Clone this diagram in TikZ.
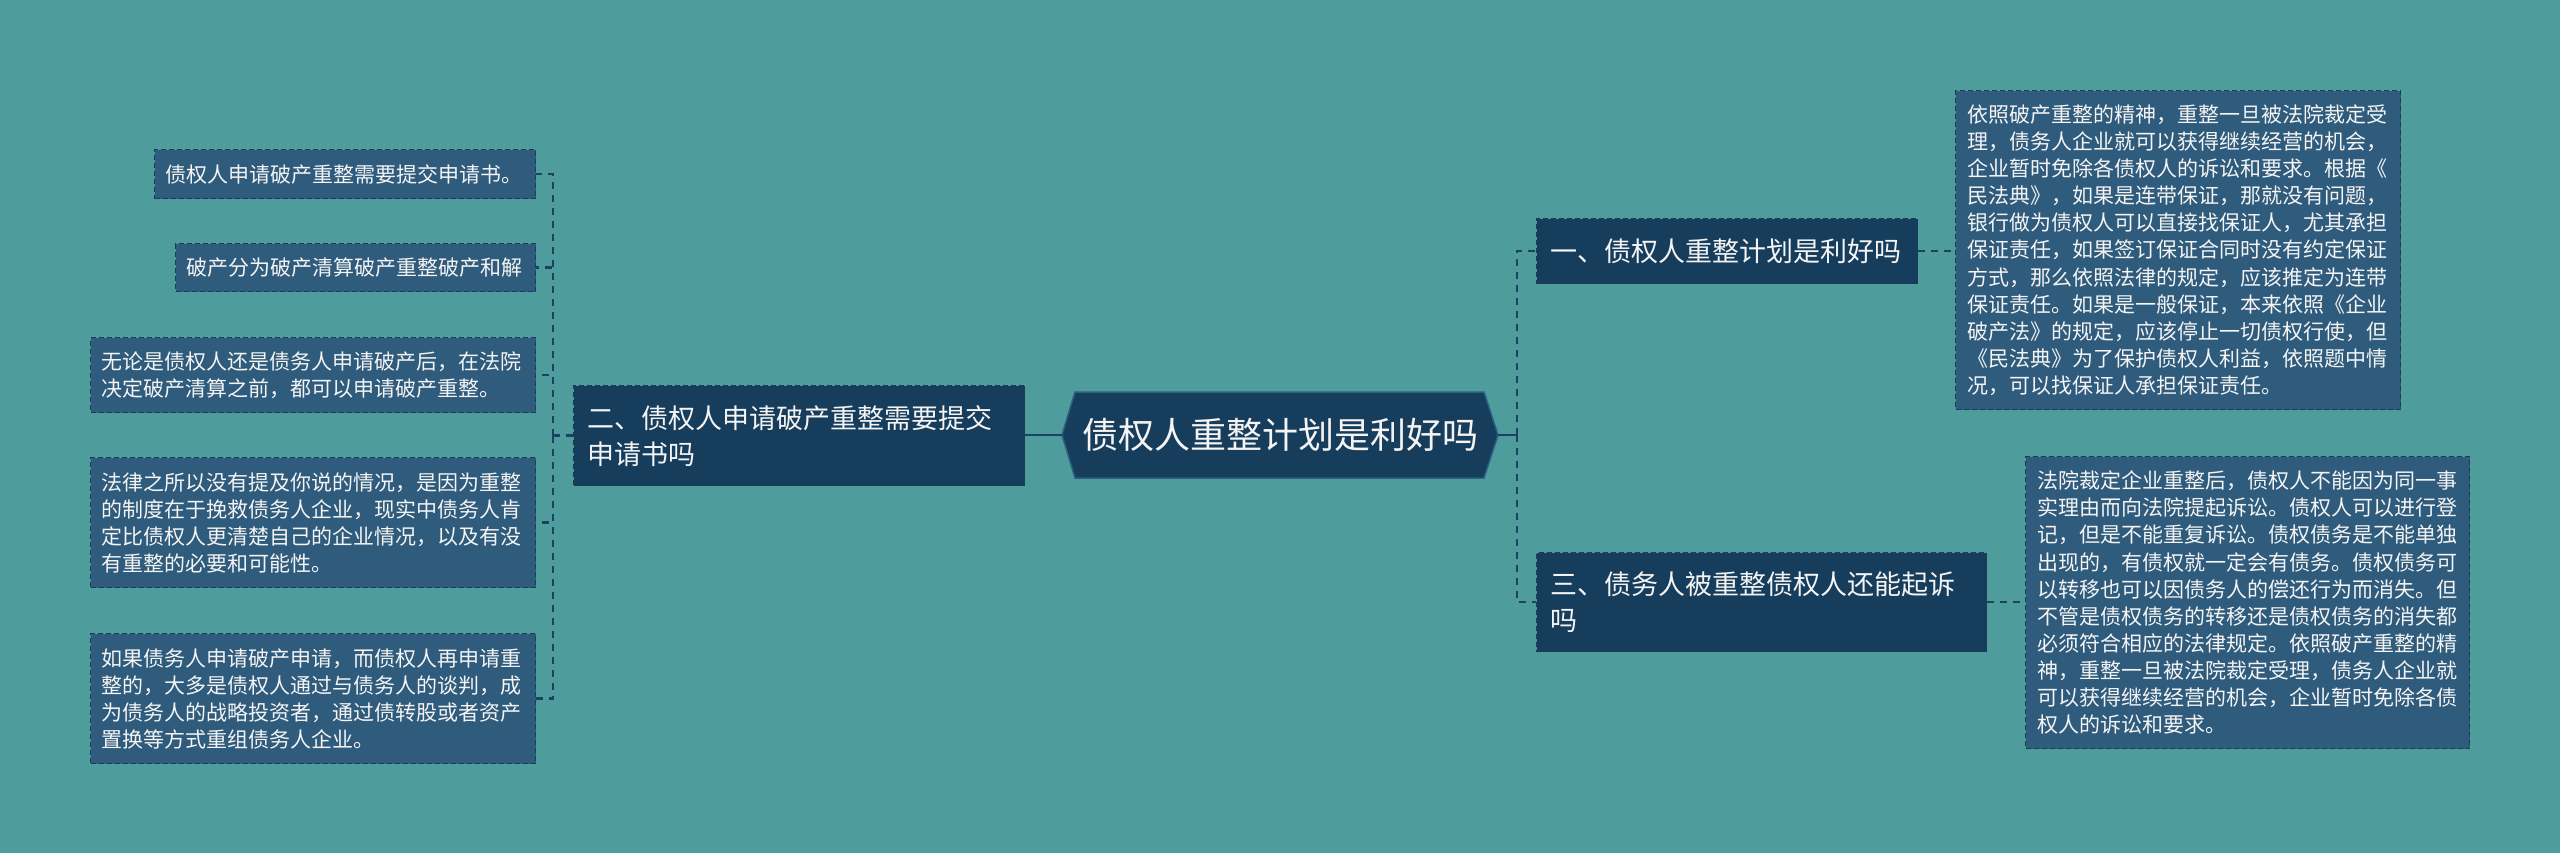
\documentclass[tikz,border=0pt]{standalone}
\usepackage{fontspec}
\newfontfamily\cjk{Noto Sans CJK SC}
\definecolor{bgC}{HTML}{4E9C9C}
\definecolor{leafC}{HTML}{2F5B7C}
\definecolor{branchC}{HTML}{173D5C}
\definecolor{edgeC}{HTML}{1A3C58}
\definecolor{lineC}{HTML}{1C4263}
\definecolor{hexC}{HTML}{173D5C}
\definecolor{hexEdge}{HTML}{2C5F80}
\definecolor{txtC}{HTML}{F4F4F4}
\begin{document}
\begin{tikzpicture}[x=1pt,y=-1pt,
  leaf/.style={draw=edgeC, line width=1.4pt, dash pattern=on 5pt off 3pt, fill=leafC, text=txtC,
    font=\cjk\fontsize{21}{27.1}\selectfont, align=left, anchor=north west,
    inner xsep=11pt, inner ysep=0pt},
  branch/.style={draw=edgeC, line width=1.4pt, dash pattern=on 5pt off 3pt, fill=branchC, text=txtC,
    font=\cjk\fontsize{27}{36}\selectfont, align=left, anchor=north west,
    inner xsep=14pt, inner ysep=0pt},
  link/.style={draw=lineC, line width=2.5pt},
  dlink/.style={link, dash pattern=on 7pt off 6pt}]
\useasboundingbox (0,0) rectangle (2560,853);
\fill[bgC] (0,0) rectangle (2560,853);

% central hexagon
\path[fill=hexC, draw=hexEdge, line width=1.5pt]
  (1062,435) -- (1075,392) -- (1484,392) -- (1498,435) -- (1484,478) -- (1075,478) -- cycle;
\node[font=\cjk\fontsize{36}{40}\selectfont, text=txtC] (c) at (1280,435) {债权人重整计划是利好吗};
\coordinate (cL) at (1062,435);
\coordinate (cR) at (1498,435);

% branches
\node[branch, minimum width=451pt, minimum height=100pt, text width=423pt] (b2) at (573,385)
  {二、债权人申请破产重整需要提交\\申请书吗};
\node[branch, minimum width=381pt, minimum height=65pt, text width=353pt] (b1) at (1536,218)
  {一、债权人重整计划是利好吗};
\node[branch, minimum width=450pt, minimum height=99pt, text width=422pt] (b3) at (1536,552)
  {三、债务人被重整债权人还能起诉\\吗};

% left leaves
\node[leaf, minimum width=381pt, minimum height=49pt, text width=359pt] (l1) at (154,149)
  {债权人申请破产重整需要提交申请书。};
\node[leaf, minimum width=360pt, minimum height=48pt, text width=338pt] (l2) at (175,243)
  {破产分为破产清算破产重整破产和解};
\node[leaf, minimum width=445pt, minimum height=75pt, text width=423pt] (l3) at (90,337)
  {无论是债权人还是债务人申请破产后，在法院\\决定破产清算之前，都可以申请破产重整。};
\node[leaf, minimum width=445pt, minimum height=130pt, text width=423pt] (l4) at (90,457)
  {法律之所以没有提及你说的情况，是因为重整\\的制度在于挽救债务人企业，现实中债务人肯\\定比债权人更清楚自己的企业情况，以及有没\\有重整的必要和可能性。};
\node[leaf, minimum width=445pt, minimum height=130pt, text width=423pt] (l5) at (90,633)
  {如果债务人申请破产申请，而债权人再申请重\\整的，大多是债权人通过与债务人的谈判，成\\为债务人的战略投资者，通过债转股或者资产\\置换等方式重组债务人企业。};

% right leaves
\node[leaf, inner xsep=12pt, minimum width=445pt, minimum height=319pt, text width=421pt] (r1) at (1955,90)
  {依照破产重整的精神，重整一旦被法院裁定受\\理，债务人企业就可以获得继续经营的机会，\\企业暂时免除各债权人的诉讼和要求。根据《\\民法典》，如果是连带保证，那就没有问题，\\银行做为债权人可以直接找保证人，尤其承担\\保证责任，如果签订保证合同时没有约定保证\\方式，那么依照法律的规定，应该推定为连带\\保证责任。如果是一般保证，本来依照《企业\\破产法》的规定，应该停止一切债权行使，但\\《民法典》为了保护债权人利益，依照题中情\\况，可以找保证人承担保证责任。};
\node[leaf, inner xsep=12pt, minimum width=444pt, minimum height=292pt, text width=420pt] (r2) at (2025,456)
  {法院裁定企业重整后，债权人不能因为同一事\\实理由而向法院提起诉讼。债权人可以进行登\\记，但是不能重复诉讼。债权债务是不能单独\\出现的，有债权就一定会有债务。债权债务可\\以转移也可以因债务人的偿还行为而消失。但\\不管是债权债务的转移还是债权债务的消失都\\必须符合相应的法律规定。依照破产重整的精\\神，重整一旦被法院裁定受理，债务人企业就\\可以获得继续经营的机会，企业暂时免除各债\\权人的诉讼和要求。};

% connectors
\draw[link] (cL) -- (b2.east |- cL);
\draw[dlink] (b2.west) -- ++(-20,0) coordinate (lj);
\foreach \n in {l1,l2,l3,l4,l5} \draw[dlink] (lj) |- (\n.east);
\draw[link] (cR) -- ++(19,0) coordinate (rj);
\draw[dlink] (rj) |- (b1.west);
\draw[dlink] (rj) |- (b3.west);
\draw[dlink] (b1.east) -- (r1.west |- b1.east);
\draw[dlink] (b3.east) -- (r2.west |- b3.east);
\end{tikzpicture}
\end{document}
